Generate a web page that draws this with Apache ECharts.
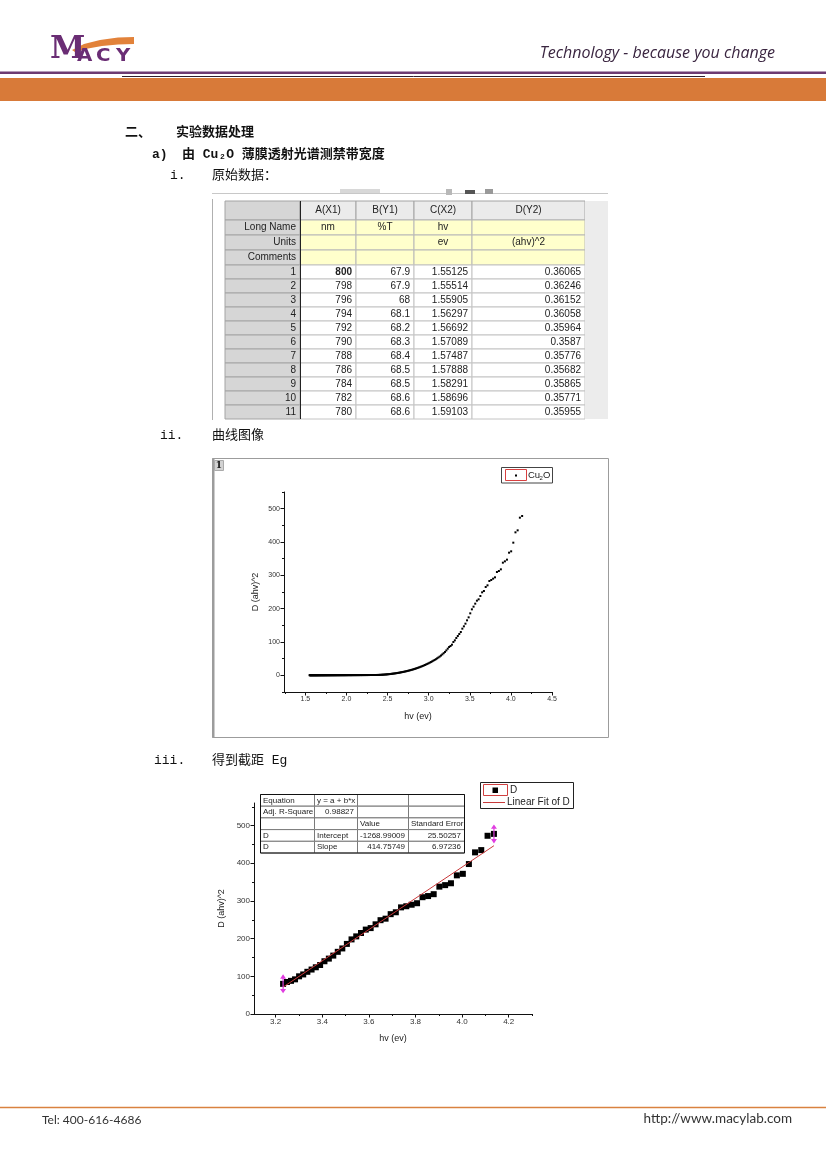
<!DOCTYPE html>
<html>
<head>
<meta charset="utf-8">
<script src="https://cdn.jsdelivr.net/npm/echarts@6/dist/echarts.min.js"></script>
<style>
  html, body { margin: 0; padding: 0; background: #fff; }
  #page { width: 826px; height: 1169px; }
</style>
</head>
<body>
<div id="page"></div>
<script>
// ---- worksheet (Origin book) ----
const colHeads = ['A(X1)', 'B(Y1)', 'C(X2)', 'D(Y2)']
const longNames = ['nm', '%T', 'hv', '']
const unitNames = ['', '', 'ev', '(ahv)^2']
const commentNames = ['', '', '', '']
const rowIds = [1, 2, 3, 4, 5, 6, 7, 8, 9, 10, 11]
const nmCol = [800, 798, 796, 794, 792, 790, 788, 786, 784, 782, 780]
const tCol = ['67.9', '67.9', '68', '68.1', '68.2', '68.3', '68.4', '68.5', '68.5', '68.6', '68.6']
const hvCol = ['1.55125', '1.55514', '1.55905', '1.56297', '1.56692', '1.57089', '1.57487', '1.57888', '1.58291', '1.58696', '1.59103']
const dCol = ['0.36065', '0.36246', '0.36152', '0.36058', '0.35964', '0.3587', '0.35776', '0.35682', '0.35865', '0.35771', '0.35955']

// ---- spectrum: hv (eV) and (ahv)^2, 800 nm -> 300 nm ----
// flat part 800..522 nm
const hvLow = [
  1.5513, 1.5551, 1.5590, 1.5630, 1.5669, 1.5709, 1.5749, 1.5789, 1.5829, 1.5870,
  1.5910, 1.5951, 1.5992, 1.6034, 1.6075, 1.6117, 1.6159, 1.6201, 1.6243, 1.6286,
  1.6329, 1.6372, 1.6415, 1.6459, 1.6503, 1.6547, 1.6591, 1.6635, 1.6680, 1.6725,
  1.6770, 1.6816, 1.6861, 1.6907, 1.6954, 1.7000, 1.7047, 1.7094, 1.7141, 1.7188,
  1.7236, 1.7284, 1.7332, 1.7381, 1.7430, 1.7479, 1.7528, 1.7578, 1.7628, 1.7678,
  1.7729, 1.7779, 1.7830, 1.7882, 1.7934, 1.7986, 1.8038, 1.8090, 1.8143, 1.8196,
  1.8250, 1.8304, 1.8358, 1.8412, 1.8467, 1.8522, 1.8578, 1.8634, 1.8690, 1.8746,
  1.8803, 1.8860, 1.8918, 1.8976, 1.9034, 1.9092, 1.9151, 1.9211, 1.9270, 1.9330,
  1.9391, 1.9451, 1.9513, 1.9574, 1.9636, 1.9698, 1.9761, 1.9824, 1.9888, 1.9952,
  2.0016, 2.0081, 2.0146, 2.0212, 2.0278, 2.0344, 2.0411, 2.0479, 2.0546, 2.0615,
  2.0683, 2.0753, 2.0822, 2.0892, 2.0963, 2.1034, 2.1105, 2.1177, 2.1250, 2.1323,
  2.1397, 2.1471, 2.1545, 2.1620, 2.1696, 2.1772, 2.1849, 2.1926, 2.2004, 2.2082,
  2.2161, 2.2240, 2.2320, 2.2401, 2.2482, 2.2564, 2.2646, 2.2729, 2.2813, 2.2897,
  2.2981, 2.3067, 2.3153, 2.3240, 2.3327, 2.3415, 2.3504, 2.3593, 2.3683, 2.3774
]
const dLow = [
  0.361, 0.362, 0.362, 0.361, 0.360, 0.359, 0.358, 0.357, 0.359, 0.358,
  0.360, 0.36, 0.36, 0.36, 0.36, 0.36, 0.36, 0.36, 0.36, 0.37,
  0.37, 0.37, 0.37, 0.37, 0.37, 0.37, 0.37, 0.38, 0.38, 0.38,
  0.38, 0.38, 0.38, 0.39, 0.39, 0.39, 0.39, 0.39, 0.40, 0.40,
  0.40, 0.40, 0.40, 0.41, 0.41, 0.41, 0.41, 0.42, 0.42, 0.42,
  0.42, 0.43, 0.43, 0.43, 0.44, 0.44, 0.44, 0.45, 0.45, 0.45,
  0.46, 0.46, 0.46, 0.47, 0.47, 0.47, 0.48, 0.48, 0.48, 0.49,
  0.49, 0.50, 0.50, 0.50, 0.51, 0.51, 0.52, 0.52, 0.52, 0.53,
  0.53, 0.54, 0.54, 0.55, 0.55, 0.55, 0.56, 0.56, 0.57, 0.57,
  0.58, 0.58, 0.59, 0.59, 0.60, 0.60, 0.61, 0.61, 0.62, 0.62,
  0.63, 0.64, 0.64, 0.65, 0.66, 0.66, 0.67, 0.68, 0.68, 0.69,
  0.70, 0.71, 0.72, 0.72, 0.73, 0.74, 0.75, 0.76, 0.77, 0.78,
  0.79, 0.80, 0.82, 0.83, 0.84, 0.86, 0.87, 0.89, 0.90, 0.92,
  0.94, 0.96, 0.98, 1.00, 1.02, 1.04, 1.06, 1.08, 1.11, 1.15
]
// absorption edge 520..386 nm
const hvEdge = [
  2.3865, 2.3958, 2.4050, 2.4144, 2.4238, 2.4333, 2.4429, 2.4526, 2.4623, 2.4721,
  2.4820, 2.4920, 2.5020, 2.5121, 2.5224, 2.5327, 2.5430, 2.5535, 2.5640, 2.5747,
  2.5854, 2.5962, 2.6071, 2.6181, 2.6292, 2.6404, 2.6517, 2.6631, 2.6746, 2.6861,
  2.6978, 2.7096, 2.7215, 2.7335, 2.7456, 2.7578, 2.7701, 2.7825, 2.7950, 2.8077,
  2.8205, 2.8333, 2.8463, 2.8594, 2.8727, 2.8860, 2.8995, 2.9131, 2.9269, 2.9408,
  2.9548, 2.9689, 2.9832, 2.9976, 3.0121, 3.0268, 3.0417, 3.0567, 3.0718, 3.0871,
  3.1025, 3.1181, 3.1338, 3.1497, 3.1658, 3.1821, 3.1985, 3.2150
]
const dEdge = [
  1.2, 1.3, 1.4, 1.5, 1.6, 1.8, 1.9, 2.1, 2.3, 2.5,
  2.7, 2.9, 3.2, 3.4, 3.7, 4.0, 4.3, 4.6, 5.0, 5.3,
  5.7, 6.1, 6.5, 7.0, 7.4, 7.9, 8.4, 9.0, 9.5, 10.1,
  10.7, 11.3, 12.0, 12.7, 13.4, 14.2, 15.0, 15.8, 16.7, 17.6,
  18.6, 19.6, 20.6, 21.7, 22.9, 24.1, 25.4, 26.7, 28.1, 29.6,
  31.1, 32.7, 34.3, 36.1, 37.9, 39.8, 41.8, 43.9, 46.1, 48.4,
  50.9, 53.5, 56.3, 59.4, 62.8, 66.4, 70.2, 74.8
]
// linear region used for the fit, 384..300 nm
const hvFit = [
  3.2318, 3.2487, 3.2658, 3.2831, 3.3005, 3.3182, 3.3360, 3.3541, 3.3723, 3.3907,
  3.4093, 3.4282, 3.4472, 3.4665, 3.4860, 3.5056, 3.5256, 3.5457, 3.5661, 3.5867,
  3.6076, 3.6287, 3.6500, 3.6716, 3.6935, 3.7156, 3.7380, 3.7606, 3.7835, 3.8067,
  3.8302, 3.8540, 3.8781, 3.9025, 3.9272, 3.9522, 3.9776, 4.0032, 4.0292, 4.0556,
  4.0822, 4.1093, 4.1367
]
const dFit = [
  80, 85, 88, 92, 100, 105, 112, 118, 124, 130,
  140, 147, 155, 165, 174, 186, 198, 206, 215, 224,
  228, 238, 249, 253, 265, 270, 283, 286, 290, 294,
  310, 313, 318, 338, 342, 347, 368, 372, 398, 429,
  435, 473, 478
]
// fitted line end points (y = a + b*x)
const fitLineX = [3.2318, 4.1367]
const fitLineY = [71.4, 446.7]
const fitTable = [
  ['Equation', 'y = a + b*x', '', ''],
  ['Adj. R-Square', '0.98827', '', ''],
  ['', '', 'Value', 'Standard Error'],
  ['D', 'Intercept', '-1268.99009', '25.50257'],
  ['D', 'Slope', '414.75749', '6.97236']
]

// ---- axis ticks ----
const c1XTicks = [1.5, 2.0, 2.5, 3.0, 3.5, 4.0, 4.5]
const c1XMinor = [1.25, 1.75, 2.25, 2.75, 3.25, 3.75, 4.25]
const c1YTicks = [0, 100, 200, 300, 400, 500]
const c1YMinor = [-50, 50, 150, 250, 350, 450, 550]
const c2XTicks = [3.2, 3.4, 3.6, 3.8, 4.0, 4.2]
const c2XMinor = [3.1, 3.3, 3.5, 3.7, 3.9, 4.1, 4.3]
const c2YTicks = [0, 100, 200, 300, 400, 500]
const c2YMinor = [50, 150, 250, 350, 450, 550]

const zip = (xs, ys) => xs.map((x, i) => [x, ys[i]])
const allPts = zip(hvLow.concat(hvEdge, hvFit), dLow.concat(dEdge, dFit))
const fitPts = zip(hvFit, dFit)

// ---- page decoration helpers ----
const g = []
function rect(x, y, w, h, fill, stroke, lw) {
  g.push({ type: 'rect', silent: true, shape: { x, y, width: w, height: h },
    style: { fill: fill || 'transparent', stroke: stroke || 'transparent', lineWidth: lw || 1 } })
}
function line(x1, y1, x2, y2, stroke, lw) {
  g.push({ type: 'line', silent: true, shape: { x1, y1, x2, y2 }, style: { stroke, lineWidth: lw || 1 } })
}
function text(x, y, str, o) {
  o = o || {}
  g.push({ type: 'text', silent: true, x, y, scaleX: o.scaleX || 1, style: {
    text: str, fill: o.color || '#222', fontSize: o.size || 10,
    fontFamily: o.family || '"Liberation Sans", Arial', fontWeight: o.weight || 'normal',
    fontStyle: o.italic ? 'italic' : 'normal',
    align: o.align || 'left', verticalAlign: 'middle',
    textAlign: o.align || 'left', textVerticalAlign: 'middle' } })
}

// header
const purple = '#6a2d74'
g.push({ type: 'polygon', silent: true, shape: { points: [[72, 50], [84, 44], [100, 40], [118, 37.5], [134, 37], [134, 44], [118, 44.5], [102, 46], [88, 48.5], [75, 52]] },
  style: { fill: '#e2823a' } })
text(50, 50, 'M', { size: 32, family: '"DejaVu Serif"', weight: 'bold', color: purple })
text(77, 56, 'A', { size: 18, family: '"DejaVu Sans"', weight: 'bold', color: purple, scaleX: 1.1 })
text(96, 56, 'C', { size: 18, family: '"DejaVu Sans"', weight: 'bold', color: purple, scaleX: 1.1 })
text(116, 56, 'Y', { size: 18, family: '"DejaVu Sans"', weight: 'bold', color: purple, scaleX: 1.1 })
text(775, 53, 'Technology - because you change', { size: 16, family: '"Open Sans"', italic: true, align: 'right', color: '#3a2540' })
rect(0, 71.5, 826, 2.5, '#6d3b72')
line(122, 76.5, 705, 76.5, '#2f1f2c', 1)
rect(0, 78, 826, 23, '#d87a39')

// body text
const cjk = '"Liberation Mono", "Noto Sans CJK SC"'
text(125, 133, '二、', { size: 13, family: cjk, weight: 'bold', color: '#111' })
text(176, 133, '实验数据处理', { size: 13, family: cjk, weight: 'bold', color: '#111' })
text(152, 155, 'a)', { size: 13, family: cjk, weight: 'bold', color: '#111' })
text(182, 155, '由 Cu₂O 薄膜透射光谱测禁带宽度', { size: 13, family: cjk, weight: 'bold', color: '#111' })
text(170, 176, 'i.', { size: 13, family: cjk, color: '#111' })
text(212, 176, '原始数据：', { size: 13, family: cjk, color: '#111' })
text(160, 436, 'ii.', { size: 13, family: cjk, color: '#111' })
text(212, 436, '曲线图像', { size: 13, family: cjk, color: '#111' })
text(154, 761, 'iii.', { size: 13, family: cjk, color: '#111' })
text(212, 761, '得到截距 Eg', { size: 13, family: cjk, color: '#111' })

// worksheet
const colX = [225, 300, 356, 414, 472, 585]
const tableTop = 201, headH = 19, labelH = 15, rowH = 14
line(212, 193.5, 608, 193.5, '#c8c8c8')
rect(340, 189, 40, 4, '#d8d8d8')
rect(446, 189, 6, 6, '#b8b8b8')
rect(465, 190, 10, 4, '#555')
rect(485, 189, 8, 5, '#999')
line(212.5, 199, 212.5, 420, '#b0b0b0')
let ty = tableTop
for (let c = 0; c < 5; c++) {
  rect(colX[c], ty, colX[c + 1] - colX[c], headH, c === 0 ? '#d6d6d6' : '#ebebeb', '#a4a4a4')
  if (c > 0) text((colX[c] + colX[c + 1]) / 2, ty + headH / 2, colHeads[c - 1], { align: 'center', size: 10 })
}
ty += headH
const labelRows = [['Long Name', longNames], ['Units', unitNames], ['Comments', commentNames]]
labelRows.forEach(([lab, cells]) => {
  rect(colX[0], ty, colX[1] - colX[0], labelH, '#d6d6d6', '#a4a4a4')
  text(colX[1] - 4, ty + labelH / 2, lab, { align: 'right', size: 10 })
  for (let c = 1; c < 5; c++) {
    rect(colX[c], ty, colX[c + 1] - colX[c], labelH, '#ffffcc', '#b8b8b8')
    if (cells[c - 1]) text((colX[c] + colX[c + 1]) / 2, ty + labelH / 2, cells[c - 1], { align: 'center', size: 10 })
  }
  ty += labelH
})
rowIds.forEach((id, i) => {
  rect(colX[0], ty, colX[1] - colX[0], rowH, '#d6d6d6', '#a4a4a4')
  text(colX[1] - 4, ty + rowH / 2, String(id), { align: 'right', size: 10 })
  const vals = [nmCol[i], tCol[i], hvCol[i], dCol[i]]
  for (let c = 1; c < 5; c++) {
    rect(colX[c], ty, colX[c + 1] - colX[c], rowH, '#ffffff', '#c4c4c4')
    text(colX[c + 1] - 4, ty + rowH / 2, String(vals[c - 1]), { align: 'right', size: 10, weight: (i === 0 && c === 1) ? 'bold' : 'normal' })
  }
  ty += rowH
})
line(colX[1] + 0.5, tableTop, colX[1] + 0.5, ty, '#222')
rect(585, tableTop, 23, ty - tableTop, '#ececec')

// chart 1 frame + legend
rect(212.5, 458.5, 396, 279, null, '#9c9c9c', 1)
line(213.5, 458, 213.5, 738, '#9c9c9c', 2)
rect(214.5, 460.5, 9, 10, '#d2d2d2', '#aaaaaa')
text(219, 465.5, '1', { size: 9, family: '"DejaVu Serif"', weight: 'bold', align: 'center', color: '#111' })
rect(501.5, 467.5, 51, 15.5, '#fff', '#444')
rect(505.5, 469.5, 21, 11, null, '#d84040')
rect(515, 474.5, 2, 2, '#000')
text(528, 475, 'Cu', { size: 9.5 })
text(539.5, 478.5, '2', { size: 6 })
text(543, 475, 'O', { size: 9.5 })

// chart 2 legend
rect(480.5, 782.5, 93, 26, '#fff', '#222')
rect(483.5, 784.5, 24, 11, null, '#d04040')
rect(492.5, 787.5, 5.5, 5.5, '#000')
text(510, 790.5, 'D', { size: 10 })
line(483, 802.5, 505, 802.5, '#c83a3a', 1)
text(507, 802.5, 'Linear Fit of D', { size: 10 })

// chart 2 fit table
const ftX = [260, 314, 357, 408, 464]
const ftTop = 794, ftH = 11.7
fitTable.forEach((row, r) => {
  const yy = ftTop + r * ftH
  row.forEach((cell, c) => {
    rect(ftX[c] + 0.5, yy + 0.5, ftX[c + 1] - ftX[c], ftH, '#fff', '#7a7a7a')
    if (!cell) return
    const isNum = /^-?[0-9.]+$/.test(cell)
    text(isNum ? ftX[c + 1] - 3 : ftX[c] + 3, yy + ftH / 2 + 0.5, cell, { size: 8, align: isNum ? 'right' : 'left' })
  })
})
rect(ftX[0] + 0.5, ftTop + 0.5, ftX[4] - ftX[0], ftH * 5, null, '#111')

// footer
line(0, 1107.5, 826, 1107.5, '#d98240', 1.5)
text(42, 1120, 'Tel: 400-616-4686', { size: 12, family: 'Lato', color: '#333' })
text(792, 1119, 'http://www.macylab.com', { size: 13.5, family: 'Lato', color: '#333', align: 'right' })

// ---- axes ----
const nameFont = { fontSize: 9, color: '#222', fontFamily: '"Liberation Sans", Arial' }
function majorAxis(grid, min, max, ticks, digits, name, gap, pos, fs) {
  return {
    gridIndex: grid, type: 'value', min, max, position: pos,
    splitLine: { show: false },
    axisLine: { onZero: false, lineStyle: { color: '#111', width: 1 } },
    axisTick: { customValues: ticks, length: 3.5, lineStyle: { color: '#111' } },
    axisLabel: { customValues: ticks, margin: 4, formatter: v => v.toFixed(digits),
      fontSize: fs, color: '#333', fontFamily: '"Liberation Sans", Arial' },
    name, nameLocation: 'middle', nameGap: gap, nameTextStyle: nameFont
  }
}
function minorAxis(grid, min, max, ticks, pos) {
  return {
    gridIndex: grid, type: 'value', min, max, position: pos,
    splitLine: { show: false }, axisLine: { show: false, onZero: false }, axisLabel: { show: false },
    axisTick: { customValues: ticks, length: 2, lineStyle: { color: '#111' } }
  }
}

const arrowPath = 'path://M5,0 L10,7 L6,7 L6,23 L10,23 L5,30 L0,23 L4,23 L4,7 L0,7 Z'

const chart = echarts.init(document.getElementById('page'))
chart.setOption({
  animation: false,
  graphic: { elements: g },
  grid: [
    { left: 284, top: 492, width: 268, height: 200 },
    { left: 254, top: 803, width: 278, height: 211 }
  ],
  xAxis: [
    majorAxis(0, 1.24, 4.5, c1XTicks, 1, 'hv (ev)', 20, 'bottom', 7),
    minorAxis(0, 1.24, 4.5, c1XMinor, 'bottom'),
    majorAxis(1, 3.107, 4.3, c2XTicks, 1, 'hv (ev)', 20, 'bottom', 8),
    minorAxis(1, 3.107, 4.3, c2XMinor, 'bottom')
  ],
  yAxis: [
    majorAxis(0, -50, 550, c1YTicks, 0, 'D (ahv)^2', 24, 'left', 7),
    minorAxis(0, -50, 550, c1YMinor, 'left'),
    majorAxis(1, 0, 560, c2YTicks, 0, 'D (ahv)^2', 28, 'left', 8),
    minorAxis(1, 0, 560, c2YMinor, 'left')
  ],
  series: [
    {
      type: 'scatter', xAxisIndex: 0, yAxisIndex: 0, data: allPts,
      symbol: 'rect', symbolSize: 2, itemStyle: { color: '#000', opacity: 1 }, silent: true
    },
    {
      type: 'scatter', xAxisIndex: 2, yAxisIndex: 2, data: fitPts,
      symbol: 'rect', symbolSize: 6, itemStyle: { color: '#000', opacity: 1 }, silent: true
    },
    {
      type: 'line', xAxisIndex: 2, yAxisIndex: 2, data: zip(fitLineX, fitLineY),
      showSymbol: false, lineStyle: { color: '#c8383a', width: 1 }, silent: true, z: 3
    },
    {
      type: 'scatter', xAxisIndex: 2, yAxisIndex: 2,
      data: [fitPts[0], fitPts[fitPts.length - 1]],
      symbol: arrowPath, symbolSize: [6, 19], itemStyle: { color: '#e03ee0', opacity: 1 }, silent: true, z: 4
    }
  ]
})
</script>
</body>
</html>
